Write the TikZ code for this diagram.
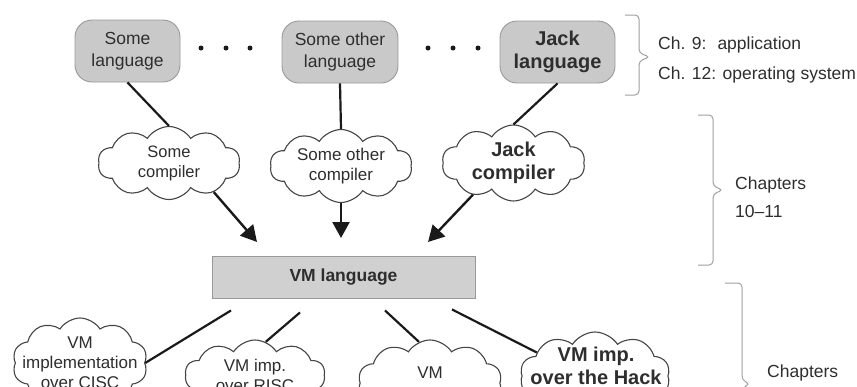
\documentclass[tikz,border=0pt]{standalone}
\usepackage{fontspec}
\setmainfont{Liberation Sans}
\usetikzlibrary{shapes.symbols,arrows.meta,calc}
\definecolor{langgray}{HTML}{C9C9C9}
\definecolor{vmgray}{HTML}{D0D0D0}
\definecolor{edgegray}{HTML}{999999}
\definecolor{textc}{HTML}{2E2E2E}
\definecolor{linec}{HTML}{1A1A1A}
\definecolor{cloudc}{HTML}{454545}
\definecolor{bracec}{HTML}{A0A0A0}
\begin{document}
\begin{tikzpicture}[x=1pt,y=-1pt,
  lang/.style={rounded corners=17pt, fill=langgray, draw=edgegray, line width=0.9pt,
    minimum height=62pt, align=center, text=textc, inner sep=0pt,
    font=\fontsize{17.5}{21.5}\selectfont},
  cloudy/.style={cloud, cloud puffs=10, cloud puff arc=115, cloud ignores aspect,
    draw=cloudc, line width=1.1pt, fill=white, align=center, inner sep=0pt,
    text=textc, font=\fontsize{16.5}{20}\selectfont},
  ctext/.style={align=center, inner sep=0pt, text=textc},
  bigbold/.style={font=\fontsize{20}{23}\selectfont\bfseries},
  arr/.style={line width=2.4pt, draw=linec, -{Triangle[length=16pt,width=17pt]}},
  ln/.style={line width=2.2pt, draw=linec},
  brc/.style={draw=bracec, line width=1pt, rounded corners=4pt},
  side/.style={anchor=west, text=textc, font=\fontsize{17.5}{21}\selectfont, inner sep=0pt},
  dot/.style={circle, fill=linec, inner sep=0pt, minimum size=5pt}
]
\useasboundingbox (0,0) rectangle (857,386);
\clip (0,0) rectangle (857,386);

% top languages
\node[lang, minimum width=105pt] (l1) at (127.5,51) {Some\\language};
\node[lang, minimum width=116pt] (l2) at (340,52) {Some other\\language};
\node[lang, minimum width=115pt, bigbold] (l3) at (557.5,52) {Jack\\language};

% dots
\node[dot] (d1) at (201,48) {};
\node[dot] (d2) at (226,48) {};
\node[dot] (d3) at (250,48) {};
\node[dot] (d4) at (428,48) {};
\node[dot] (d5) at (453,48) {};
\node[dot] (d6) at (478,48) {};

% compilers
\node[cloudy, minimum width=142pt, minimum height=73pt] (c1) at (169,163) {Some\\compiler};
\node[cloudy, minimum width=142pt, minimum height=73pt, font=\fontsize{17}{20.5}\selectfont] (c2) at (341,166) {Some other\\compiler};
\node[cloudy, minimum width=143pt, minimum height=74pt, bigbold] (c3) at (513.5,163) {Jack\\compiler};

% VM language
\node[fill=vmgray, draw=edgegray, line width=0.9pt, minimum width=263pt, minimum height=42pt,
  inner sep=0pt, text=textc, font=\fontsize{17.5}{20}\selectfont\bfseries] (vm) at (343.5,277) {VM language};

% lower clouds
\node[cloudy, minimum width=135pt, minimum height=90pt] (v1) at (80,363) {};
\node[ctext, font=\fontsize{17}{20}\selectfont] (v1t) at (80,363) {VM\\implementation\\over CISC};
\node[cloudy, minimum width=140pt, minimum height=70pt, font=\fontsize{17}{20}\selectfont] (v2) at (255,375) {VM imp.\\over RISC};
\node[cloudy, minimum width=144pt, minimum height=86pt, font=\fontsize{17}{20}\selectfont] (v3) at (430,383) {VM\\\mbox{}};
\node[cloudy, minimum width=150pt, minimum height=88pt] (v4) at (595,376) {};
\node[ctext, bigbold] (v4t) at (596,366) {VM imp.\\over the Hack};

% connectors top
\draw[ln] (l1.south) -- (c1.north);
\draw[ln] (l2.south) -- (c2.north);
\draw[ln] (l3.south) -- (c3.north);

\coordinate (a1) at (257,242);
\coordinate (a2) at (341,238);
\coordinate (a3) at (428,242);
\draw[arr] (c1.-33) -- (a1);
\draw[arr] (c2.south) -- (a2);
\draw[arr] (c3.-142) -- (a3);

% connectors bottom
\coordinate (b1) at ($(vm.south)+(-112.5,12)$);
\coordinate (b2) at ($(vm.south)+(-43.5,14)$);
\coordinate (b3) at ($(vm.south)+(41.5,12)$);
\coordinate (b4) at ($(vm.south)+(108.5,11)$);
\draw[ln] (b1) -- (v1.east);
\draw[ln] (b2) -- (v2.72);
\draw[ln] (b3) -- (v3.105);
\draw[ln] (b4) -- (v4.158);

% braces
\draw[brc] (625,15) -- (639,15) -- (639,53) -- (650,57) -- (639,61) -- (639,95) -- (625,95);
\draw[brc] (698,115) -- (713,115) -- (713,186) -- (723,190) -- (713,194) -- (713,265) -- (698,265);
\draw[brc] (725,283) -- (742,283) -- (742,380) -- (750,384) -- (742,388) -- (742,485) -- (725,485);

% side labels
\node[side] (t1) at (658,45) {Ch. 9:\hspace{11pt}application};
\node[side] (t2) at (658,75) {Ch. 12: operating system};
\node[side] (t3) at (735,185) {Chapters};
\node[side] (t4) at (735,211) {10--11};
\node[side] (t5) at (767,373) {Chapters};
\end{tikzpicture}
\end{document}
